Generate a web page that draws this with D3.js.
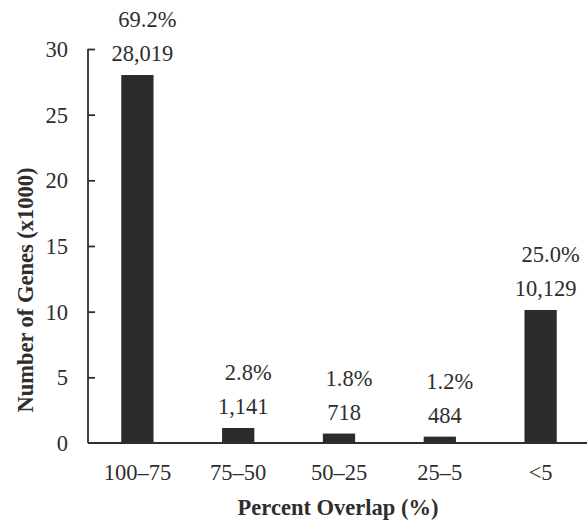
<!DOCTYPE html>
<html><head><meta charset="utf-8">
<script src="https://cdn.jsdelivr.net/npm/d3@7"></script>
<style>html,body{margin:0;padding:0;background:#fff;}svg{display:block;}</style>
</head><body>
<script>
const categories = ["100–75", "75–50", "50–25", "25–5", "<5"];
const values = [28.019, 1.141, 0.718, 0.484, 10.129];
const countLabels = ["28,019", "1,141", "718", "484", "10,129"];
const percentLabels = ["69.2%", "2.8%", "1.8%", "1.2%", "25.0%"];
const yTicks = [0, 5, 10, 15, 20, 25, 30];

const W = 587, H = 523;
const svg = d3.select("body").append("svg").attr("width", W).attr("height", H);
const font = "'Liberation Serif', 'Times New Roman', serif";
const ink = "#2e2e2e";
const fs = 22.5;

const x = d3.scaleBand().domain(categories).range([88, 590]).paddingInner(0.68).paddingOuter(0.33);
const y = d3.scaleLinear().domain([0, 30]).range([443, 49]);

// bars
svg.selectAll("rect.bar").data(categories).join("rect")
  .attr("class", "bar")
  .attr("x", d => x(d))
  .attr("width", x.bandwidth())
  .attr("y", (d, i) => y(values[i]))
  .attr("height", (d, i) => y(0) - y(values[i]))
  .attr("fill", "#2b2b2b");

// y axis
const yAxis = d3.axisRight(y).tickValues(yTicks).tickSize(7).tickFormat("");
const gy = svg.append("g").attr("transform", "translate(88,0)").call(yAxis);
gy.select(".domain").attr("d", `M0,${y(30)}V${y(0)}`).attr("stroke", ink).attr("stroke-width", 1.8);
gy.selectAll(".tick line").attr("stroke", ink).attr("stroke-width", 1.8);
gy.selectAll(".tick").filter(d => d === 0).select("line").remove();

svg.selectAll("text.ytick").data(yTicks).join("text")
  .attr("class", "ytick")
  .attr("x", 68).attr("y", d => y(d) + 8)
  .attr("text-anchor", "end")
  .attr("font-family", font).attr("font-size", fs).attr("fill", ink)
  .text(d => d);

// x baseline
svg.append("line").attr("x1", 88).attr("x2", W).attr("y1", y(0)).attr("y2", y(0))
  .attr("stroke", ink).attr("stroke-width", 1.8);

// x tick labels
svg.selectAll("text.xtick").data(categories).join("text")
  .attr("class", "xtick")
  .attr("x", d => x(d) + x.bandwidth() / 2)
  .attr("y", 480)
  .attr("text-anchor", "middle")
  .attr("font-family", font).attr("font-size", fs).attr("fill", ink)
  .text(d => d);

// value labels
svg.selectAll("text.count").data(categories).join("text")
  .attr("class", "count")
  .attr("x", d => x(d) + x.bandwidth() / 2 + 5)
  .attr("y", (d, i) => y(values[i]) - 14)
  .attr("text-anchor", "middle")
  .attr("font-family", font).attr("font-size", fs).attr("fill", ink)
  .text((d, i) => countLabels[i]);

svg.selectAll("text.pct").data(categories).join("text")
  .attr("class", "pct")
  .attr("x", d => x(d) + x.bandwidth() / 2 + 10)
  .attr("y", (d, i) => y(values[i]) - 48)
  .attr("text-anchor", "middle")
  .attr("font-family", font).attr("font-size", fs).attr("fill", ink)
  .text((d, i) => percentLabels[i]);

// axis titles
svg.append("text")
  .attr("x", 338).attr("y", 515)
  .attr("text-anchor", "middle")
  .attr("font-family", font).attr("font-size", fs).attr("font-weight", "bold").attr("fill", ink)
  .text("Percent Overlap (%)");

svg.append("text")
  .attr("transform", "translate(33,290) rotate(-90)")
  .attr("text-anchor", "middle")
  .attr("font-family", font).attr("font-size", fs).attr("font-weight", "bold").attr("fill", ink)
  .text("Number of Genes (x1000)");
</script>
</body></html>
